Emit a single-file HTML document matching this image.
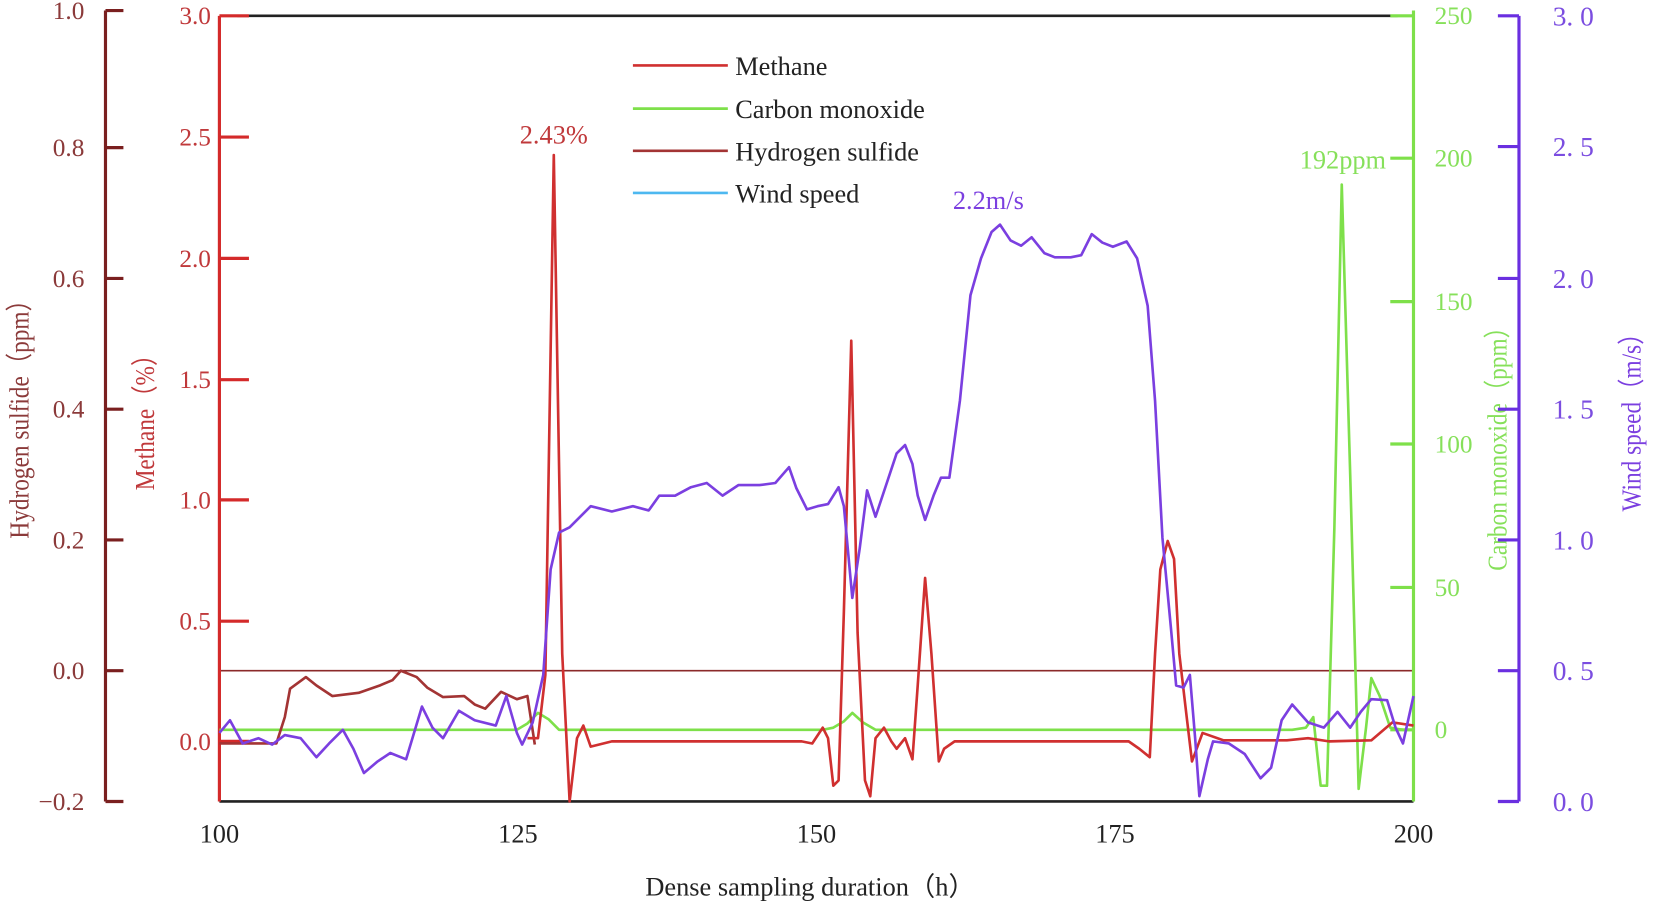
<!DOCTYPE html>
<html><head><meta charset="utf-8"><style>html,body{margin:0;padding:0;background:#fff}svg{display:block}</style></head>
<body>
<svg width="1654" height="908" viewBox="0 0 1568 861" preserveAspectRatio="none" font-family="'Liberation Serif',serif">
<line x1="225" y1="15" x2="1325" y2="15" stroke="#222" stroke-width="2.5"/>
<line x1="208" y1="760" x2="1340" y2="760" stroke="#222" stroke-width="2.5"/>
<line x1="208" y1="636" x2="1340" y2="636" stroke="#8b2a2a" stroke-width="1.5"/>
<g stroke="#d42a2a" stroke-width="3"><line x1="208" y1="15" x2="208" y2="760"/>
<line x1="208" y1="15" x2="236" y2="15"/><line x1="208" y1="130" x2="236" y2="130"/><line x1="208" y1="245" x2="236" y2="245"/><line x1="208" y1="360" x2="236" y2="360"/><line x1="208" y1="474" x2="236" y2="474"/><line x1="208" y1="589" x2="236" y2="589"/><line x1="208" y1="703" x2="236" y2="703"/></g>
<g fill="#c0393b" font-size="24" text-anchor="end"><text x="200" y="23">3.0</text><text x="200" y="138">2.5</text><text x="200" y="253">2.0</text><text x="200" y="368">1.5</text><text x="200" y="482">1.0</text><text x="200" y="597">0.5</text><text x="200" y="711">0.0</text></g>
<text transform="translate(146,395) rotate(-90) scale(0.85,1)" fill="#c0393b" font-size="26" text-anchor="middle">Methane（%）</text>
<g stroke="#7a1f1f" stroke-width="3"><line x1="100" y1="10" x2="100" y2="760"/>
<line x1="100" y1="10" x2="117" y2="10"/><line x1="100" y1="140" x2="117" y2="140"/><line x1="100" y1="264" x2="117" y2="264"/><line x1="100" y1="388" x2="117" y2="388"/><line x1="100" y1="512" x2="117" y2="512"/><line x1="100" y1="636" x2="117" y2="636"/><line x1="100" y1="760" x2="117" y2="760"/></g>
<g fill="#8b3a3a" font-size="24" text-anchor="end"><text x="80" y="18">1.0</text><text x="80" y="148">0.8</text><text x="80" y="272">0.6</text><text x="80" y="396">0.4</text><text x="80" y="520">0.2</text><text x="80" y="644">0.0</text><text x="80" y="768">−0.2</text></g>
<text transform="translate(27,392) rotate(-90) scale(0.85,1)" fill="#8b3a3a" font-size="26" text-anchor="middle">Hydrogen sulfide（ppm）</text>
<g stroke="#7ee04a" stroke-width="3"><line x1="1340" y1="10" x2="1340" y2="760"/>
<line x1="1318" y1="15" x2="1340" y2="15"/><line x1="1318" y1="150" x2="1340" y2="150"/><line x1="1318" y1="286" x2="1340" y2="286"/><line x1="1318" y1="421" x2="1340" y2="421"/><line x1="1318" y1="557" x2="1340" y2="557"/><line x1="1318" y1="692" x2="1340" y2="692"/></g>
<g fill="#86e05a" font-size="24"><text x="1360" y="23">250</text><text x="1360" y="158">200</text><text x="1360" y="294">150</text><text x="1360" y="429">100</text><text x="1360" y="565">50</text><text x="1360" y="700">0</text></g>
<text transform="translate(1428,420) rotate(-90) scale(0.85,1)" fill="#86e05a" font-size="26" text-anchor="middle">Carbon monoxide（ppm）</text>
<g stroke="#6a2fe0" stroke-width="3"><line x1="1440" y1="15" x2="1440" y2="760"/>
<line x1="1420" y1="15" x2="1440" y2="15"/><line x1="1420" y1="139" x2="1440" y2="139"/><line x1="1420" y1="264" x2="1440" y2="264"/><line x1="1420" y1="388" x2="1440" y2="388"/><line x1="1420" y1="512" x2="1440" y2="512"/><line x1="1420" y1="636" x2="1440" y2="636"/><line x1="1420" y1="760" x2="1440" y2="760"/></g>
<g fill="#7b4de0" font-size="26"><text x="1472" y="24">3. 0</text><text x="1472" y="148">2. 5</text><text x="1472" y="273">2. 0</text><text x="1472" y="397">1. 5</text><text x="1472" y="521">1. 0</text><text x="1472" y="645">0. 5</text><text x="1472" y="769">0. 0</text></g>
<text transform="translate(1555,395) rotate(-90) scale(0.85,1)" fill="#7b3fe0" font-size="26" text-anchor="middle">Wind speed（m/s）</text>
<g fill="#222" font-size="25" text-anchor="middle"><text x="208" y="799">100</text><text x="491" y="799">125</text><text x="774" y="799">150</text><text x="1057" y="799">175</text><text x="1340" y="799">200</text></g>
<text x="768" y="849" fill="#222" font-size="25" text-anchor="middle">Dense sampling duration（h）</text>
<g fill="none" stroke-width="2.5" stroke-linejoin="round">
<polyline stroke="#7ee04a" points="208,692 490,692 500,686 510,676 520,682 530,692 780,692 790,690 800,684 808,676 818,685 830,692 1200,692 1225,692 1238,690 1245,680 1252,745 1258,745 1265,500 1272,175 1280,450 1288,748 1295,690 1300,643 1308,660 1318,690 1330,692 1340,692"/>
<polyline stroke="#a33434" points="208,705 262,705 270,680 275,653 290,642 300,650 315,660 340,657 360,650 372,645 380,636 395,642 405,652 420,661 440,660 450,668 460,672 475,656 490,663 500,660 507,706"/>
<polyline stroke="#d03030" points="500,700 510,700 517,640 525,147 533,620 540,760 547,700 553,688 560,708 580,703 760,703 770,705 780,690 785,700 790,745 795,740 800,580 807,323 813,600 820,740 825,755 830,700 838,690 845,703 850,710 858,700 865,720 870,650 877,548 883,620 890,722 895,710 905,703 1070,703 1080,710 1090,718 1095,620 1100,540 1107,513 1113,530 1118,620 1125,680 1130,722 1140,695 1160,702 1220,702 1240,700 1260,703 1300,702 1320,685 1340,688"/>
<polyline stroke="#7b3fe0" points="208,695 218,683 230,705 245,700 258,706 270,697 285,700 300,718 312,705 325,692 335,710 345,733 358,722 370,714 385,720 400,670 410,690 420,700 435,674 450,683 470,688 480,660 490,695 495,706 505,685 515,640 522,540 530,505 540,500 560,480 580,485 600,480 615,484 625,470 640,470 655,462 670,458 685,470 700,460 720,460 735,458 748,443 755,463 765,483 775,480 785,478 795,462 800,480 808,567 815,520 822,465 830,490 840,460 850,430 858,422 865,440 870,470 877,493 885,470 892,453 900,453 910,380 920,280 930,245 940,220 948,213 958,228 968,233 978,225 990,240 1000,244 1015,244 1025,242 1035,222 1045,230 1055,234 1068,229 1078,245 1088,290 1095,380 1102,510 1110,595 1115,650 1122,652 1128,640 1133,700 1137,755 1145,720 1150,703 1165,705 1180,715 1195,738 1205,728 1215,683 1225,668 1240,685 1255,690 1268,675 1280,690 1290,675 1300,663 1315,664 1323,690 1330,705 1340,660"/>
</g>
<text x="525" y="136" fill="#c0393b" font-size="25" text-anchor="middle">2.43%</text>
<text x="937" y="198" fill="#7b3fe0" font-size="25" text-anchor="middle">2.2m/s</text>
<text x="1314" y="160" fill="#86e05a" font-size="25" text-anchor="end">192ppm</text>
<g stroke-width="2.5"><line x1="600" y1="62" x2="690" y2="62" stroke="#d03030"/><line x1="600" y1="103" x2="690" y2="103" stroke="#7ee04a"/><line x1="600" y1="143" x2="690" y2="143" stroke="#a33434"/><line x1="600" y1="183" x2="690" y2="183" stroke="#4db8f0"/></g>
<g fill="#222" font-size="25"><text x="697" y="71">Methane</text><text x="697" y="112">Carbon monoxide</text><text x="697" y="152">Hydrogen sulfide</text><text x="697" y="192">Wind speed</text></g>
</svg>
</body></html>
